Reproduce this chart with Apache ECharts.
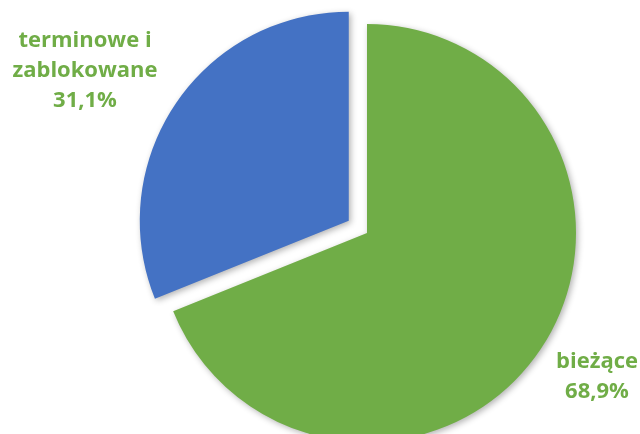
<!DOCTYPE html>
<html><head><meta charset="utf-8">
<script src="https://cdn.jsdelivr.net/npm/echarts@6/dist/echarts.min.js"></script>
<style>html,body{margin:0;padding:0;background:#fff}#c{width:640px;height:434px}</style>
</head><body><div id="c"></div>
<script>
const categories = ['bieżące', 'terminowe i\nzablokowane'];
const values = [68.9, 31.1];
const colors = ['#70AD47', '#4472C4'];
const labelPos = [[597, 377], [85, 71]];

const fmt = v => v.toFixed(1).replace('.', ',') + '%';
const chart = echarts.init(document.getElementById('c'));
chart.setOption({
  animation: false,
  graphic: categories.map((c, i) => ({
    type: 'text',
    x: labelPos[i][0], y: labelPos[i][1],
    z: 10,
    style: {
      text: c + '\n' + fmt(values[i]),
      fill: '#70AD47',
      fontWeight: 'bold',
      fontSize: 22,
      lineHeight: 30,
      fontFamily: 'Open Sans',
      align: 'center',
      verticalAlign: 'middle'
    }
  })),
  series: [{
    type: 'pie',
    center: [367, 233],
    radius: 209,
    startAngle: 90,
    clockwise: true,
    selectedMode: 'single',
    selectedOffset: 22,
    data: categories.map((c, i) => ({
      name: c, value: values[i], selected: i === 1,
      itemStyle: { color: colors[i] }
    })),
    itemStyle: {
      shadowBlur: 6, shadowColor: 'rgba(0,0,0,0.3)', shadowOffsetX: 2, shadowOffsetY: 2
    },
    label: { show: false },
    labelLine: { show: false },
    emphasis: { disabled: true }
  }]
});
</script></body></html>
